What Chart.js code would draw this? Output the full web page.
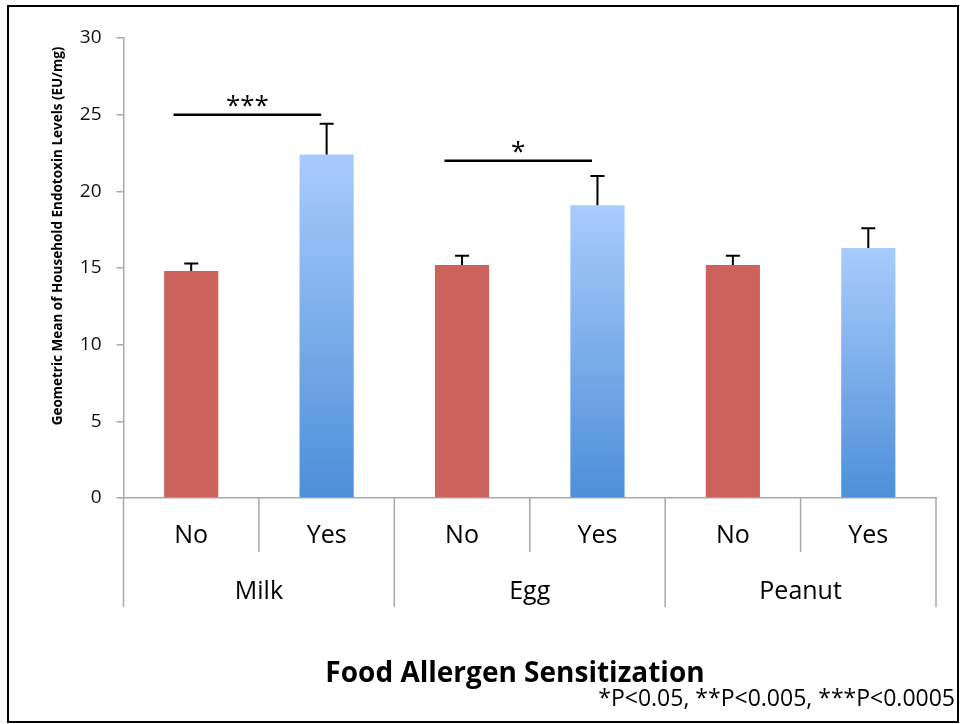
<!DOCTYPE html>
<html>
<head>
<meta charset="utf-8">
<script src="https://cdn.jsdelivr.net/npm/chart.js@4/dist/chart.umd.min.js"></script>
<style>
  html, body { margin: 0; padding: 0; background: #fff; }
  #wrap { width: 961px; height: 724px; position: relative; }
</style>
</head>
<body>
<div id="wrap"><canvas id="chart" width="961" height="724"></canvas></div>
<script>
// Endotoxin levels by food allergen sensitization
const allergens = ['Milk', 'Egg', 'Peanut'];
const sensitized = ['No', 'Yes'];
const tickLabels = ['No', 'Yes', 'No', 'Yes', 'No', 'Yes'];
const geoMeans = [14.8, 22.4, 15.2, 19.1, 15.2, 16.3];
const upperErrors = [0.5, 2.0, 0.6, 1.9, 0.6, 1.3];
const yTickValues = [0, 5, 10, 15, 20, 25, 30];

// significance brackets: bar index pairs, bracket level (EU/mg) and mark
const bracketPairs = [[0, 1], [2, 3]];
const bracketLevels = [25, 22];
const bracketMarks = ['***', '*'];

const yTitle = 'Geometric Mean of Household Endotoxin Levels (EU/mg)';
const xTitle = 'Food Allergen Sensitization';
const footnote = '*P<0.05, **P<0.005, ***P<0.0005';

const FONT = '"Open Sans", Lato, sans-serif';
const AXIS_GREY = '#a9a9a9';
const RED = '#cb635c';

function barColor(ctx) {
  if (ctx.type !== 'data') return RED;
  if (tickLabels[ctx.dataIndex] === 'No') return RED;
  const chart = ctx.chart;
  const ys = chart.scales.y;
  if (!ys || !chart.chartArea) return '#7fb0ee';
  const top = ys.getPixelForValue(ctx.raw);
  const bottom = ys.getPixelForValue(0);
  const g = chart.ctx.createLinearGradient(0, top, 0, bottom);
  g.addColorStop(0, '#a9cbfc');
  g.addColorStop(1, '#4d8fd9');
  return g;
}

const decorations = {
  id: 'decorations',
  beforeDraw(chart) {
    const c = chart.ctx;
    c.save();
    c.fillStyle = '#fff';
    c.fillRect(0, 0, chart.width, chart.height);
    c.restore();
  },
  afterDatasetsDraw(chart) {
    const c = chart.ctx;
    const xs = chart.scales.x, ys = chart.scales.y;
    const meta = chart.getDatasetMeta(0);
    c.save();
    // error bars (upper only)
    c.strokeStyle = '#000';
    c.lineWidth = 2;
    meta.data.forEach((bar, i) => {
      const yBar = ys.getPixelForValue(geoMeans[i]);
      const yTop = ys.getPixelForValue(geoMeans[i] + upperErrors[i]);
      c.beginPath();
      c.moveTo(bar.x, yBar);
      c.lineTo(bar.x, yTop);
      c.moveTo(bar.x - 7, yTop);
      c.lineTo(bar.x + 7, yTop);
      c.stroke();
    });
    // significance brackets
    bracketPairs.forEach((pair, k) => {
      const x1 = xs.getPixelForValue(pair[0] - 0.13);
      const x2 = xs.getPixelForValue(pair[1] - 0.04);
      const y = ys.getPixelForValue(bracketLevels[k]);
      c.lineWidth = 2.5;
      c.beginPath();
      c.moveTo(x1, y);
      c.lineTo(x2, y);
      c.stroke();
      c.fillStyle = '#000';
      c.font = '26px ' + FONT;
      c.textAlign = 'center';
      c.textBaseline = 'alphabetic';
      c.fillText(bracketMarks[k], (x1 + x2) / 2, y - 1);
    });
    c.restore();
  },
  afterDraw(chart) {
    const c = chart.ctx;
    const xs = chart.scales.x;
    const area = chart.chartArea;
    c.save();
    // category dividers below the axis
    c.strokeStyle = AXIS_GREY;
    c.lineWidth = 1.5;
    for (let b = 0; b <= tickLabels.length; b++) {
      const x = xs.getPixelForValue(b - 0.5);
      const long = b % sensitized.length === 0;
      c.beginPath();
      c.moveTo(x, area.bottom);
      c.lineTo(x, area.bottom + (long ? 109 : 54));
      c.stroke();
    }
    // allergen group labels
    c.fillStyle = '#000';
    c.font = '25px ' + FONT;
    c.textAlign = 'center';
    c.textBaseline = 'alphabetic';
    allergens.forEach((name, g) => {
      const x = xs.getPixelForValue(g * sensitized.length + 0.5);
      c.fillText(name, x, area.bottom + 101);
    });
    // axis titles
    c.font = 'bold 28px ' + FONT;
    c.fillText(xTitle, 515, 682);
    c.save();
    c.translate(62, 236);
    c.rotate(-Math.PI / 2);
    c.font = 'bold 13.5px ' + FONT;
    c.fillText(yTitle, 0, 0);
    c.restore();
    // footnote
    c.font = '23px ' + FONT;
    c.textAlign = 'right';
    c.fillText(footnote, 955, 706);
    // frame
    c.strokeStyle = '#000';
    c.lineWidth = 2;
    c.strokeRect(8, 6, 950, 716);
    c.restore();
  }
};

new Chart(document.getElementById('chart'), {
  type: 'bar',
  data: {
    labels: tickLabels,
    datasets: [{
      data: geoMeans,
      backgroundColor: barColor,
      borderWidth: 0,
      barPercentage: 0.4,
      categoryPercentage: 1.0
    }]
  },
  options: {
    responsive: false,
    animation: false,
    layout: { padding: { left: 0, top: 38, right: 25, bottom: 116 } },
    plugins: { legend: { display: false }, tooltip: { enabled: false } },
    scales: {
      x: {
        offset: true,
        grid: { display: false, drawTicks: false },
        border: { display: true, color: AXIS_GREY, width: 1.5 },
        ticks: { color: '#000', font: { family: FONT, size: 25 }, padding: 23, maxRotation: 0 },
        afterFit(s) { s.height = 110; }
      },
      y: {
        min: 0,
        max: 30,
        afterBuildTicks(s) { s.ticks = yTickValues.map(v => ({ value: v })); },
        grid: { drawOnChartArea: false, color: AXIS_GREY, lineWidth: 1.5, tickLength: 7 },
        border: { display: true, color: AXIS_GREY, width: 1.5 },
        ticks: { color: '#111', font: { family: FONT, size: 19 }, padding: 15 },
        afterFit(s) { s.width = 123.5; }
      }
    }
  },
  plugins: [decorations]
});
</script>
</body>
</html>
